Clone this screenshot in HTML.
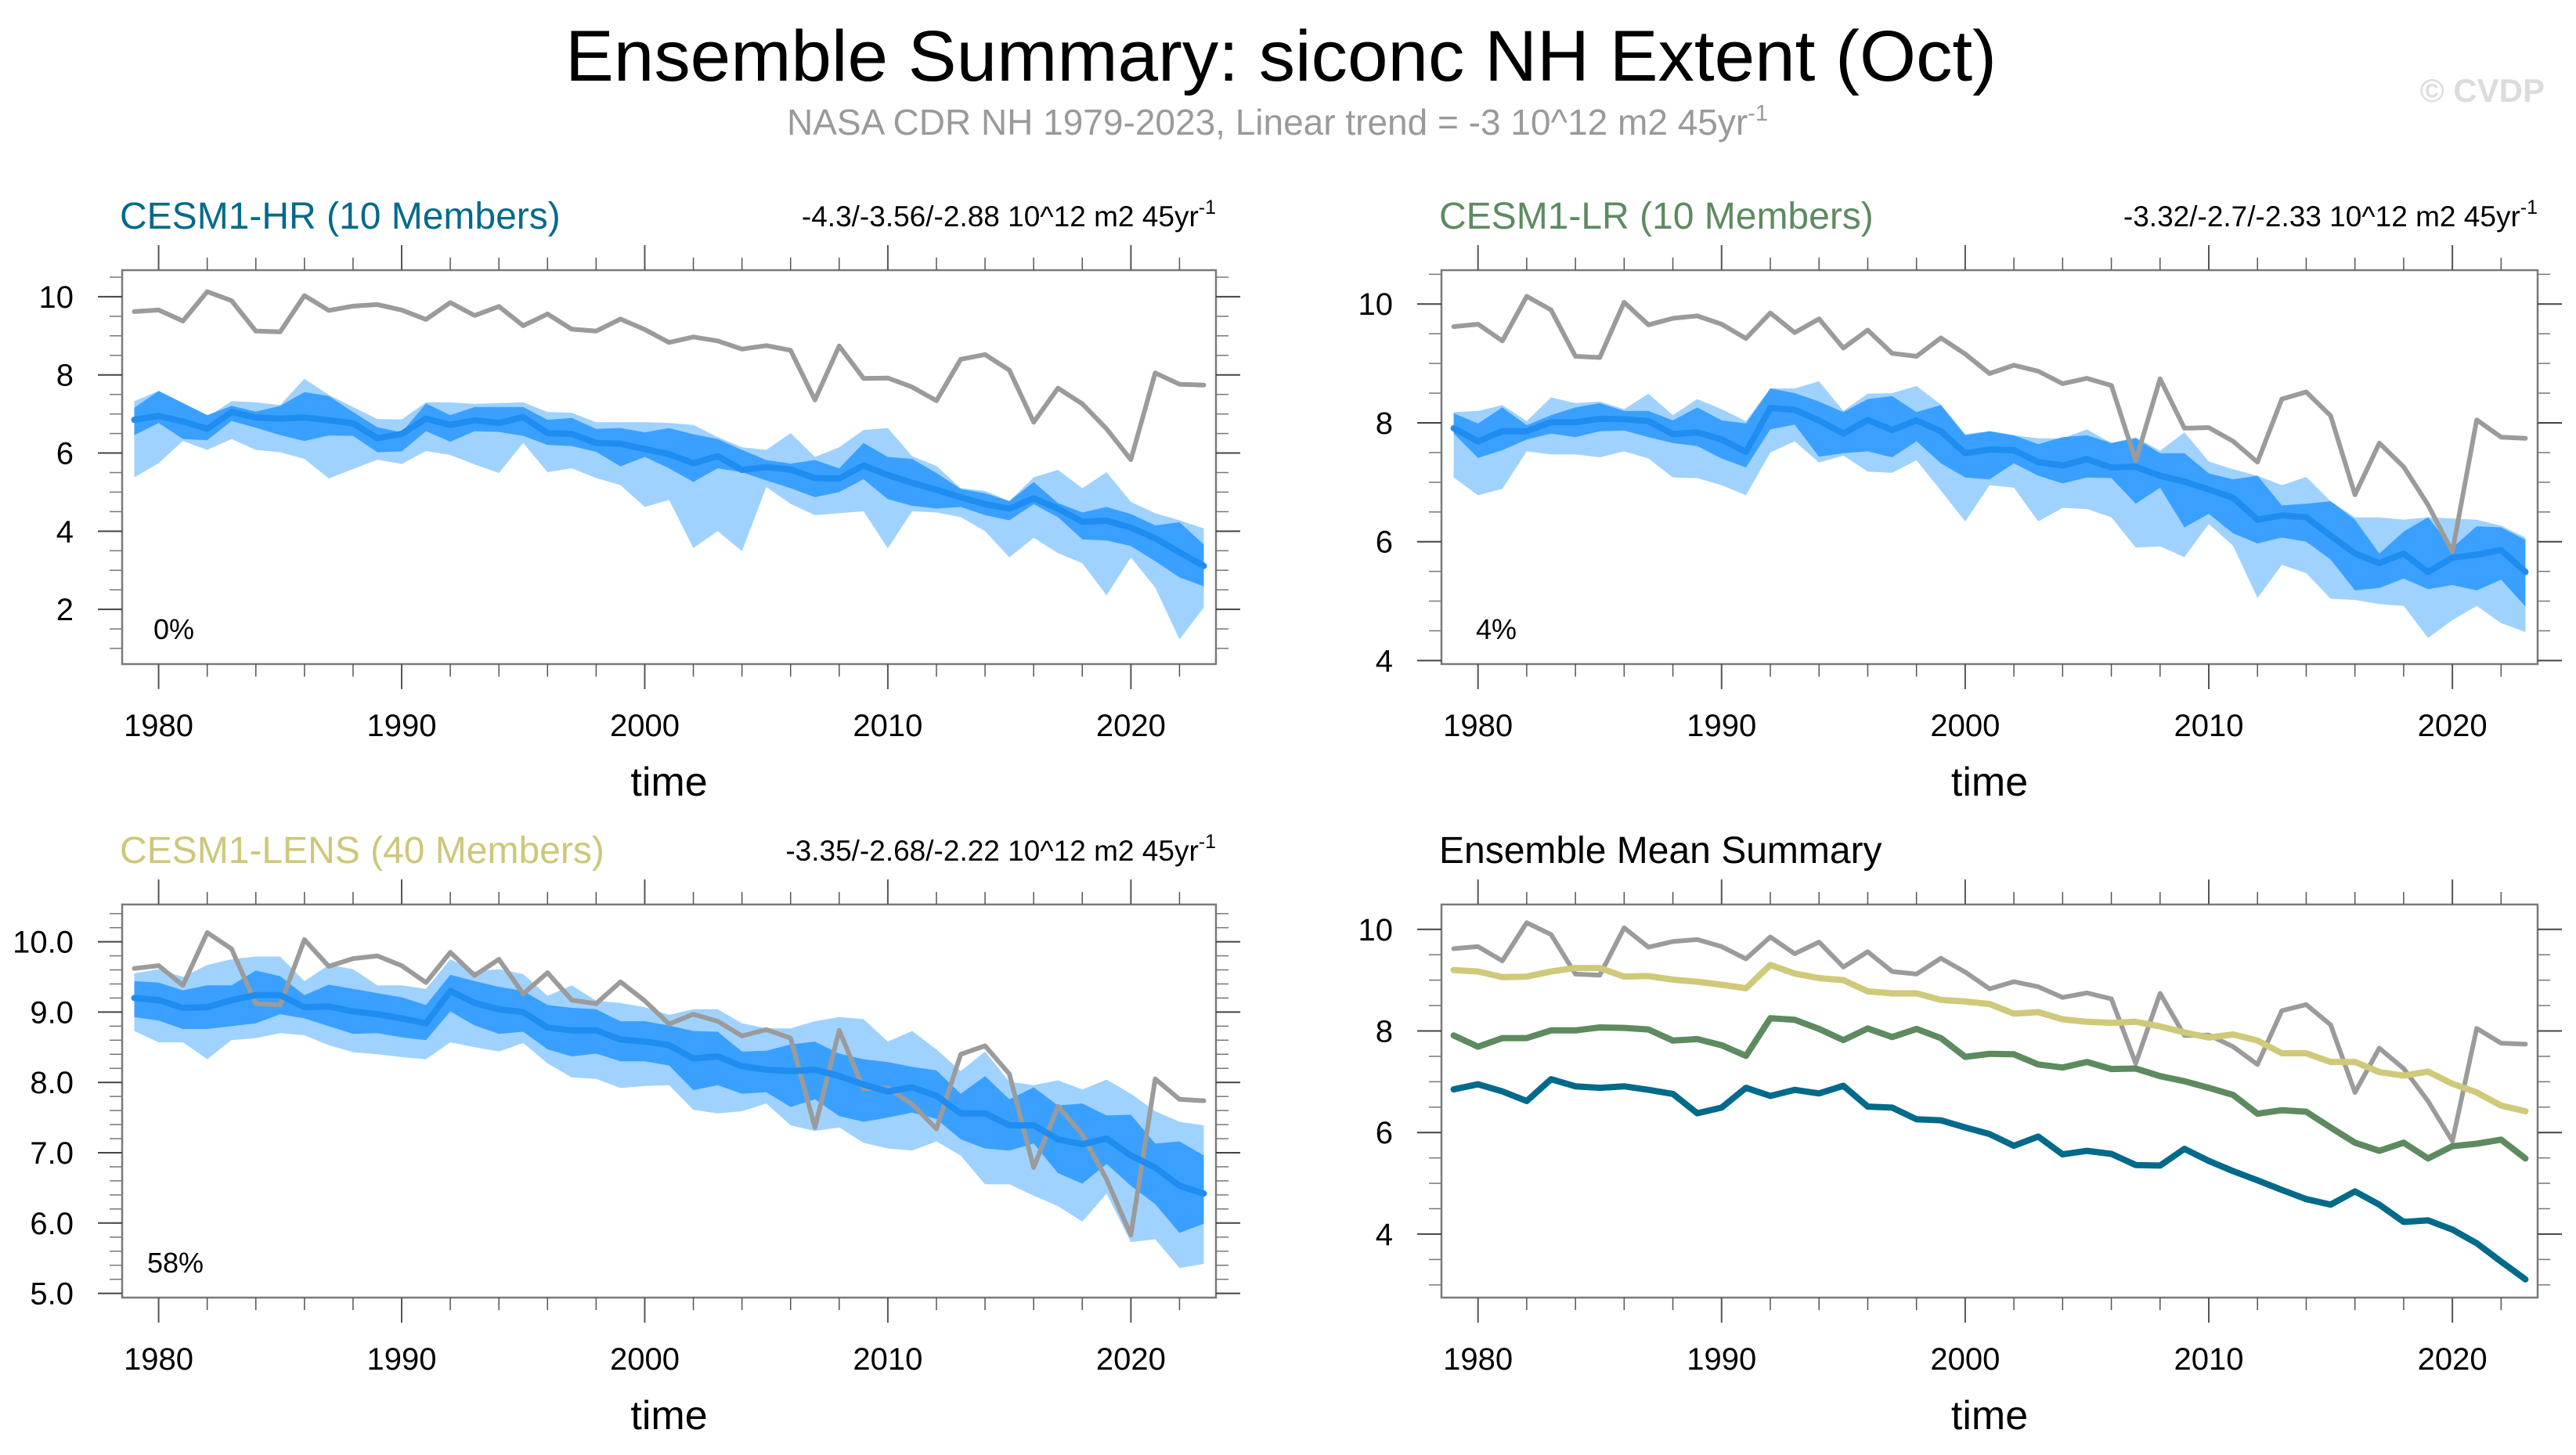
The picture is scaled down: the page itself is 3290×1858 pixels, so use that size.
<!DOCTYPE html>
<html><head><meta charset="utf-8"><title>Ensemble Summary: siconc NH Extent (Oct)</title>
<style>
html,body{margin:0;padding:0;background:#fff;}
svg{display:block;font-family:"Liberation Sans",Arial,sans-serif;}
</style></head>
<body>
<svg id="chart" width="3290" height="1858" viewBox="0 0 3290 1858" xmlns="http://www.w3.org/2000/svg">
<rect width="3290" height="1858" fill="#fff"/>
<text x="1636" y="103" font-size="92" text-anchor="middle" textLength="1828" lengthAdjust="spacingAndGlyphs" fill="#000">Ensemble Summary: siconc NH Extent (Oct)</text>
<text x="1005" y="172" font-size="46" fill="#9a9a9a">NASA CDR NH 1979-2023, Linear trend = -3 10^12 m2 45yr<tspan dy="-18" font-size="29">-1</tspan></text>
<text x="3250" y="130" font-size="42" font-weight="bold" text-anchor="end" fill="#dcdcdc">© CVDP</text>
<g id="panels"></g>
</svg>
<script>
const years = [];
for (let y = 1979; y <= 2023; y++) years.push(y);

const obs = [9.62,9.66,9.38,10.13,9.9,9.12,9.1,10.03,9.65,9.76,9.8,9.66,9.42,9.85,9.52,9.75,9.26,9.56,9.17,9.12,9.43,9.16,8.83,8.97,8.87,8.66,8.75,8.63,7.36,8.74,7.91,7.92,7.69,7.34,8.40,8.52,8.12,6.79,7.66,7.26,6.62,5.83,8.05,7.76,7.74];

const hrMean = [6.85,6.95,6.81,6.62,7.05,6.91,6.88,6.91,6.84,6.76,6.38,6.49,6.88,6.72,6.84,6.77,6.92,6.51,6.49,6.26,6.24,6.1,5.97,5.74,5.92,5.57,5.64,5.58,5.36,5.35,5.68,5.44,5.24,5.06,4.87,4.69,4.58,4.84,4.58,4.24,4.27,4.09,3.82,3.46,3.11];
const hrDarkHi = [7.16,7.59,7.28,6.97,7.21,7.06,7.21,7.56,7.46,7.05,6.66,6.53,7.27,6.97,7.18,7.18,7.18,6.85,6.90,6.62,6.64,6.53,6.64,6.48,6.36,6.08,5.82,5.73,5.82,5.61,6.26,5.9,5.85,5.49,5.08,4.97,4.77,5.26,4.72,4.48,4.62,4.44,4.15,4.23,3.66];
const hrDarkLo = [6.46,6.77,6.36,6.33,6.82,6.65,6.46,6.31,6.45,6.44,6.02,6.04,6.56,6.29,6.56,6.54,6.44,6.21,6.18,6.03,5.66,5.9,5.61,5.26,5.61,5.51,5.3,5.1,4.87,5.0,5.33,4.82,4.65,4.58,4.62,4.41,4.28,4.69,4.36,3.79,3.76,3.62,3.23,2.82,2.59];
const hrLightHi = [7.33,7.59,7.28,6.92,7.33,7.3,7.23,7.9,7.49,7.18,6.87,6.86,7.3,7.3,7.26,7.28,7.3,7.05,7.03,6.79,6.79,6.79,6.77,6.72,6.41,6.15,6.08,6.51,5.9,6.15,6.59,6.64,5.92,5.67,5.1,5.03,4.77,5.38,5.57,5.1,5.51,4.75,4.46,4.28,4.07];
const hrLightLo = [5.38,5.74,6.31,6.08,6.36,6.08,6.02,5.85,5.35,5.59,5.83,5.72,6.05,5.95,5.71,5.49,6.26,5.51,5.61,5.36,5.18,4.62,4.8,3.57,4.0,3.49,5.13,4.7,4.41,4.46,4.51,3.56,4.51,4.48,4.36,4.0,3.33,3.83,3.44,3.18,2.36,3.33,2.56,1.23,2.05];

const lrMean = [7.91,7.69,7.86,7.86,8.01,8.01,8.07,8.06,8.03,7.81,7.84,7.72,7.51,8.25,8.22,8.04,7.82,8.05,7.88,8.04,7.86,7.49,7.55,7.54,7.34,7.28,7.39,7.25,7.26,7.11,7.01,6.88,6.74,6.37,6.44,6.41,6.1,5.8,5.64,5.8,5.49,5.73,5.78,5.86,5.49];
const lrDarkHi = [8.16,7.99,8.26,7.96,8.13,8.26,8.33,8.2,8.2,8.04,8.26,8.04,7.99,8.58,8.5,8.36,8.18,8.4,8.45,8.18,8.3,7.79,7.86,7.79,7.64,7.76,7.79,7.66,7.74,7.49,7.49,7.15,7.05,7.11,6.61,6.64,6.68,6.37,5.8,6.17,6.41,5.9,6.26,6.24,6.03];
const lrDarkLo = [7.82,7.41,7.54,7.72,7.82,7.76,7.86,7.87,7.76,7.66,7.61,7.4,7.25,7.89,7.97,7.43,7.49,7.52,7.42,7.69,7.32,7.08,7.05,7.32,7.11,6.98,7.08,7.07,6.64,6.91,6.24,6.47,6.14,5.97,6.07,6.0,5.7,5.18,5.22,5.38,5.2,5.27,5.18,5.36,4.91];
const lrLightHi = [8.18,8.2,8.3,8.03,8.43,8.33,8.36,8.23,8.49,8.13,8.4,8.23,8.03,8.58,8.58,8.7,8.2,8.49,8.5,8.62,8.31,7.81,7.86,7.79,7.74,7.74,7.89,7.66,7.76,7.53,7.84,7.35,7.22,7.11,6.95,7.09,6.68,6.41,6.41,6.37,6.41,6.39,6.37,6.27,6.07];
const lrLightLo = [7.08,6.78,6.89,7.52,7.47,7.47,7.42,7.52,7.4,7.08,7.07,6.95,6.78,7.5,7.69,7.33,7.45,7.18,7.16,7.37,6.86,6.34,6.95,6.91,6.34,6.57,6.55,6.41,5.9,5.92,5.74,6.3,5.93,5.05,5.61,5.47,5.04,5.02,4.95,4.92,4.38,4.68,4.92,4.63,4.48];

const lensMean = [9.2,9.17,9.06,9.07,9.17,9.24,9.24,9.07,9.08,9.01,8.97,8.91,8.84,9.3,9.13,9.04,9.0,8.78,8.74,8.74,8.61,8.58,8.53,8.34,8.37,8.23,8.18,8.16,8.18,8.09,7.97,7.87,7.93,7.81,7.56,7.56,7.39,7.39,7.19,7.12,7.2,6.96,6.79,6.53,6.42];
const lensDarkHi = [9.44,9.42,9.31,9.38,9.38,9.59,9.51,9.24,9.39,9.33,9.27,9.21,9.1,9.53,9.44,9.36,9.3,9.1,9.06,9.04,8.87,8.87,8.81,8.73,8.72,8.44,8.45,8.54,8.58,8.41,8.33,8.29,8.22,8.17,7.84,8.09,7.76,7.93,7.67,7.7,7.53,7.54,7.13,7.16,6.96];
const lensDarkLo = [8.93,8.88,8.76,8.76,8.8,8.84,8.97,8.91,8.8,8.69,8.7,8.64,8.6,9.01,8.81,8.69,8.72,8.47,8.37,8.41,8.3,8.3,8.24,7.89,7.96,7.84,7.86,7.65,7.76,7.52,7.44,7.5,7.57,7.48,7.19,7.06,7.03,7.13,6.71,6.56,6.84,6.53,6.27,5.86,5.99];
const lensLightHi = [9.55,9.61,9.5,9.67,9.75,9.79,9.79,9.44,9.67,9.61,9.38,9.38,9.33,9.75,9.58,9.61,9.54,9.23,9.38,9.16,9.13,9.07,8.96,9.04,9.04,8.84,8.77,8.77,8.87,8.93,8.9,8.58,8.73,8.47,8.16,8.44,8.01,7.96,8.03,7.9,8.04,7.84,7.59,7.44,7.39];
const lensLightLo = [8.73,8.57,8.57,8.33,8.6,8.63,8.7,8.67,8.53,8.43,8.4,8.36,8.33,8.57,8.5,8.44,8.56,8.27,8.07,8.05,7.92,7.95,7.96,7.61,7.56,7.59,7.7,7.39,7.31,7.36,7.14,7.06,7.03,7.16,6.96,6.55,6.55,6.39,6.24,6.02,6.42,5.73,5.77,5.36,5.42];

const xTickYears = [1980,1990,2000,2010,2020];

const NS = "http://www.w3.org/2000/svg";
const root = document.getElementById("panels");
function mk(tag, attrs, parent) {
  const e = document.createElementNS(NS, tag);
  for (const k in attrs) e.setAttribute(k, attrs[k]);
  (parent || root).appendChild(e);
  return e;
}

const LIGHT = "#a0d2ff", DARK = "#3aa0ff", MEANC = "#1e8cf0", OBSC = "#9b9b9b";

function drawPanel(cfg) {
  const g = mk("g", {});
  
  
  const xs = v => cfg.x0 + (v - 1978.5) / 45 * (cfg.x1 - cfg.x0);
  const ys = v => cfg.y1 - (v - cfg.ymin) / (cfg.ymax - cfg.ymin) * (cfg.y1 - cfg.y0);
  const clip = "clip-" + cfg.name;
  const cp = mk("clipPath", {id: clip}, g);
  mk("rect", {x: cfg.x0, y: cfg.y0, width: cfg.x1 - cfg.x0, height: cfg.y1 - cfg.y0}, cp);
  const plot = mk("g", {"clip-path": "url(#" + clip + ")"}, g);

  function band(hi, lo, color, nm) {
    let pts = [];
    years.forEach((yr, i) => pts.push(xs(yr).toFixed(1) + "," + ys(hi[i]).toFixed(1)));
    for (let i = years.length - 1; i >= 0; i--) pts.push(xs(years[i]).toFixed(1) + "," + ys(lo[i]).toFixed(1));
    const p = mk("polygon", {points: pts.join(" "), fill: color, stroke: "none"}, plot);
    
    
  }
  function line(vals, color, w, nm) {
    const pts = years.map((yr, i) => xs(yr).toFixed(1) + "," + ys(vals[i]).toFixed(1)).join(" ");
    const p = mk("polyline", {points: pts, fill: "none", stroke: color, "stroke-width": w, "stroke-linejoin": "round", "stroke-linecap": "round"}, plot);
    
    
  }
  if (cfg.bands) {
    band(cfg.bands.lh, cfg.bands.ll, LIGHT, "ensemble-range-band");
    band(cfg.bands.dh, cfg.bands.dl, DARK, "ensemble-iqr-band");
  }
  cfg.lines.forEach(l => line(l.v, l.c, l.w, l.n));

  const box = mk("rect", {x: cfg.x0, y: cfg.y0, width: cfg.x1 - cfg.x0, height: cfg.y1 - cfg.y0, fill: "none", stroke: "#7a7a7a", "stroke-width": 2.5}, g);
  
  

  for (let yr = 1980; yr <= 2022; yr += 2) {
    const major = yr % 10 === 0;
    const L = major ? 32 : 16;
    const x = xs(yr);
    mk("line", {x1: x, x2: x, y1: cfg.y1, y2: cfg.y1 + L, stroke: "#555", "stroke-width": major ? 2 : 1.5}, g);
    mk("line", {x1: x, x2: x, y1: cfg.y0, y2: cfg.y0 - L, stroke: "#555", "stroke-width": major ? 2 : 1.5}, g);
  }
  xTickYears.forEach(yr => {
    const t = mk("text", {x: xs(yr), y: cfg.y1 + 92, "font-size": 40, "text-anchor": "middle", fill: "#000"}, g);
    t.textContent = yr;
    
    
  });
  for (let v = cfg.minStart; v <= cfg.ymax + 1e-9; v += cfg.minor) {
    if (v < cfg.ymin) continue;
    const y = ys(v);
    mk("line", {x1: cfg.x0 - 16, x2: cfg.x0, y1: y, y2: y, stroke: "#777", "stroke-width": 1.5}, g);
    mk("line", {x1: cfg.x1, x2: cfg.x1 + 16, y1: y, y2: y, stroke: "#777", "stroke-width": 1.5}, g);
  }
  cfg.majors.forEach(v => {
    const y = ys(v);
    mk("line", {x1: cfg.x0 - 31, x2: cfg.x0, y1: y, y2: y, stroke: "#444", "stroke-width": 2}, g);
    mk("line", {x1: cfg.x1, x2: cfg.x1 + 31, y1: y, y2: y, stroke: "#444", "stroke-width": 2}, g);
    const t = mk("text", {x: cfg.x0 - 62, y: y + 14, "font-size": 40, "text-anchor": "end", fill: "#000"}, g);
    t.textContent = cfg.fmt(v);
    
    
  });
  const xt = mk("text", {x: (cfg.x0 + cfg.x1) / 2, y: cfg.y1 + 168, "font-size": 52, "text-anchor": "middle", fill: "#000"}, g);
  xt.textContent = "time";
  
  

  const tt = mk("text", {x: cfg.x0 - 3, y: cfg.y0 - 53, "font-size": 48, fill: cfg.titleColor}, g);
  tt.textContent = cfg.title;
  
  
  if (cfg.trend) {
    const tr = mk("text", {x: cfg.x1, y: cfg.y0 - 56, "font-size": 37, "text-anchor": "end", fill: "#000"}, g);
    tr.innerHTML = cfg.trend + ' 10^12 m2 45yr<tspan dy="-16" font-size="25">-1</tspan>';
    
    
  }
  if (cfg.pct) {
    const pt = mk("text", {x: cfg.x0 + cfg.pctDx, y: cfg.y1 - 32, "font-size": 36, fill: "#000"}, g);
    pt.textContent = cfg.pct;
    
    
  }
}

const f0 = v => String(v), f1 = v => v.toFixed(1);
const obsLine = {v: obs, c: OBSC, w: 6, n: "observed-line"};

drawPanel({name: "panel-cesm1-hr", x0: 156, x1: 1553, y0: 345, y1: 848, ymin: 0.6, ymax: 10.68,
  majors: [2,4,6,8,10], minor: 0.5, minStart: 1, fmt: f0,
  bands: {lh: hrLightHi, ll: hrLightLo, dh: hrDarkHi, dl: hrDarkLo},
  lines: [obsLine, {v: hrMean, c: MEANC, w: 8, n: "ensemble-mean-line"}],
  title: "CESM1-HR (10 Members)", titleColor: "#006a8a", trend: "-4.3/-3.56/-2.88", pct: "0%", pctDx: 40});

drawPanel({name: "panel-cesm1-lr", x0: 1841, x1: 3241, y0: 345, y1: 848, ymin: 3.94, ymax: 10.57,
  majors: [4,6,8,10], minor: 0.5, minStart: 4, fmt: f0,
  bands: {lh: lrLightHi, ll: lrLightLo, dh: lrDarkHi, dl: lrDarkLo},
  lines: [obsLine, {v: lrMean, c: MEANC, w: 8, n: "ensemble-mean-line"}],
  title: "CESM1-LR (10 Members)", titleColor: "#5e8a60", trend: "-3.32/-2.7/-2.33", pct: "4%", pctDx: 44});

drawPanel({name: "panel-cesm1-lens", x0: 156, x1: 1553, y0: 1155, y1: 1657, ymin: 4.94, ymax: 10.53,
  majors: [5,6,7,8,9,10], minor: 0.2, minStart: 5, fmt: f1,
  bands: {lh: lensLightHi, ll: lensLightLo, dh: lensDarkHi, dl: lensDarkLo},
  lines: [obsLine, {v: lensMean, c: MEANC, w: 8, n: "ensemble-mean-line"}],
  title: "CESM1-LENS (40 Members)", titleColor: "#cdc77a", trend: "-3.35/-2.68/-2.22", pct: "58%", pctDx: 32});

drawPanel({name: "panel-ensemble-mean-summary", x0: 1841, x1: 3241, y0: 1155, y1: 1657, ymin: 2.75, ymax: 10.49,
  majors: [4,6,8,10], minor: 0.5, minStart: 3, fmt: f0,
  bands: null,
  lines: [obsLine,
    {v: lensMean, c: "#cfc97a", w: 8, n: "lens-mean-line"},
    {v: lrMean, c: "#5e8a60", w: 8, n: "lr-mean-line"},
    {v: hrMean, c: "#006a8a", w: 8, n: "hr-mean-line"}],
  title: "Ensemble Mean Summary", titleColor: "#000", trend: null, pct: null});
</script>
</body></html>
